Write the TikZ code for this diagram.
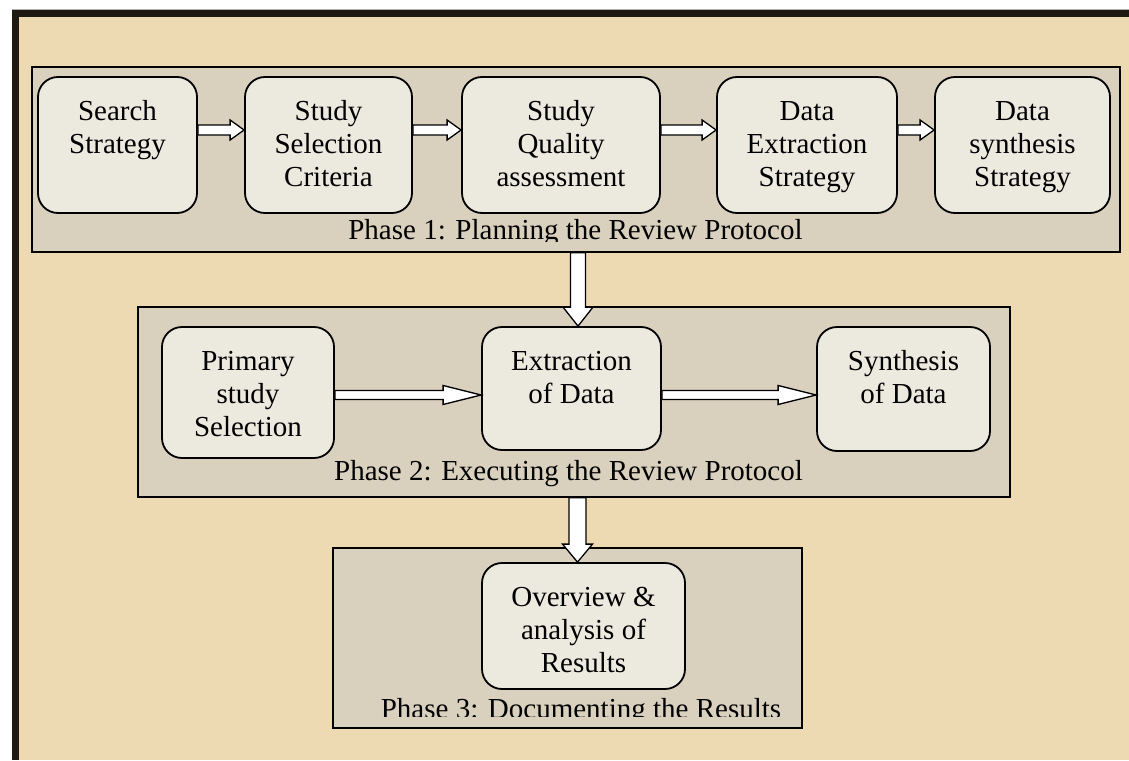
\documentclass[tikz,border=0pt]{standalone}
\usepackage{fontspec}
\setmainfont{Liberation Serif}
\usetikzlibrary{calc}
\definecolor{parch}{HTML}{EDDAB3}
\definecolor{framec}{HTML}{1E1A12}
\definecolor{phasefill}{HTML}{D9D0BE}
\definecolor{boxfill}{HTML}{ECE9DF}
% top-aligned text block of given height and width
\newcommand\bt[3]{\parbox[t][#1][t]{#2}{\centering\vspace*{20pt}\strut #3\par}}
% horizontal hollow arrow: from node, to node, y (px), shaft half, head half, head length
\newcommand\harr[6]{%
  \draw[hollow] let \p1=(#1.east), \p2=(#2.west), \p3=(0,#3) in
    (\x1,{\y3+#4pt}) -- ({\x2-#6pt},{\y3+#4pt}) -- ({\x2-#6pt},{\y3+#5pt}) --
    (\x2,\y3) -- ({\x2-#6pt},{\y3-#5pt}) -- ({\x2-#6pt},{\y3-#4pt}) --
    (\x1,{\y3-#4pt}) -- cycle;}
% vertical hollow arrow: from node, to node, x (px), shaft half, head half, head length
\newcommand\varr[6]{%
  \draw[hollow] let \p1=(#1.south), \p2=(#2.north), \p3=(#3,0) in
    ({\x3-#4pt},\y1) -- ({\x3-#4pt},{\y2+#6pt}) -- ({\x3-#5pt},{\y2+#6pt}) --
    (\x3,\y2) -- ({\x3+#5pt},{\y2+#6pt}) -- ({\x3+#4pt},{\y2+#6pt}) --
    ({\x3+#4pt},\y1) -- cycle;}
\tikzset{
  hollow/.style={draw=black, fill=white, line width=1.3pt, line join=miter},
  phasebox/.style={draw=black, fill=phasefill, line width=1.5pt, inner sep=0pt},
  stepbox/.style={draw=black, fill=boxfill, line width=1.8pt, rounded corners=20pt, inner sep=0pt},
  phaselabel/.style={anchor=base, inner sep=0pt},
}
\begin{document}
\begin{tikzpicture}[x=1pt, y=-1pt, font=\fontsize{29}{33}\selectfont]
\useasboundingbox (0,0) rectangle (1129,760);
% background
\fill[white] (0,0) rectangle (1129,760);
\fill[parch] (12,10) rectangle (1129,760);
\draw[black!30, line width=0.8pt] (12,9) -- (1129,9);
\fill[framec] (12,10) rectangle (1129,17);
\fill[framec] (12,10) rectangle (19,760);

% phase containers
\node[phasebox, minimum width=1088pt, minimum height=185pt] (p1) at (576,159.5) {};
\node[phasebox, minimum width=872pt, minimum height=190pt] (p2) at (574,402) {};
\node[phasebox, minimum width=469pt, minimum height=180pt] (p3) at (567.5,638) {};

% phase 1 steps
\node[stepbox] (s1) at (117.5,145) {\bt{136pt}{159pt}{Search\\Strategy}};
\node[stepbox] (s2) at (328.5,145) {\bt{136pt}{167pt}{Study\\Selection\\Criteria}};
\node[stepbox] (s3) at (561,145) {\bt{136pt}{198pt}{Study\\Quality\\assessment}};
\node[stepbox] (s4) at (807,145) {\bt{136pt}{180pt}{Data\\Extraction\\Strategy}};
\node[stepbox] (s5) at (1022.5,145) {\bt{136pt}{175pt}{Data\\synthesis\\Strategy}};

% phase 2 steps
\node[stepbox] (q1) at (248,392.5) {\bt{131pt}{172pt}{Primary\\study\\Selection}};
\node[stepbox] (q2) at (571.5,388.5) {\bt{123pt}{179pt}{Extraction\\of Data}};
\node[stepbox] (q3) at (903.5,389) {\bt{124pt}{173pt}{Synthesis\\of Data}};

% phase 3 step
\node[stepbox] (r1) at (583.5,626) {\bt{126pt}{203pt}{Overview \&\\analysis of\\Results}};

% phase labels
\begin{scope}
  \clip (32,67) rectangle (1120,241);
  \node[phaselabel] (l1) at (575.5,239) {Phase 1: Planning the Review Protocol};
\end{scope}
\node[phaselabel] (l2) at (568.5,480) {Phase 2: Executing the Review Protocol};
\begin{scope}
  \clip (333,548) rectangle (802,716);
  \node[phaselabel] (l3) at (581,718) {Phase 3: Documenting the Results};
\end{scope}

% connectors
\harr{s1}{s2}{130}{5}{10}{14}
\harr{s2}{s3}{130}{5}{10}{14}
\harr{s3}{s4}{130}{5}{10}{14}
\harr{s4}{s5}{130}{5}{10}{14}
\harr{q1}{q2}{395}{4.5}{9.5}{38}
\harr{q2}{q3}{395}{4.5}{9.5}{38}
\varr{p1}{q2}{578}{7.5}{15}{19}
\varr{p2}{r1}{577.5}{8.5}{15}{18}
\end{tikzpicture}
\end{document}
